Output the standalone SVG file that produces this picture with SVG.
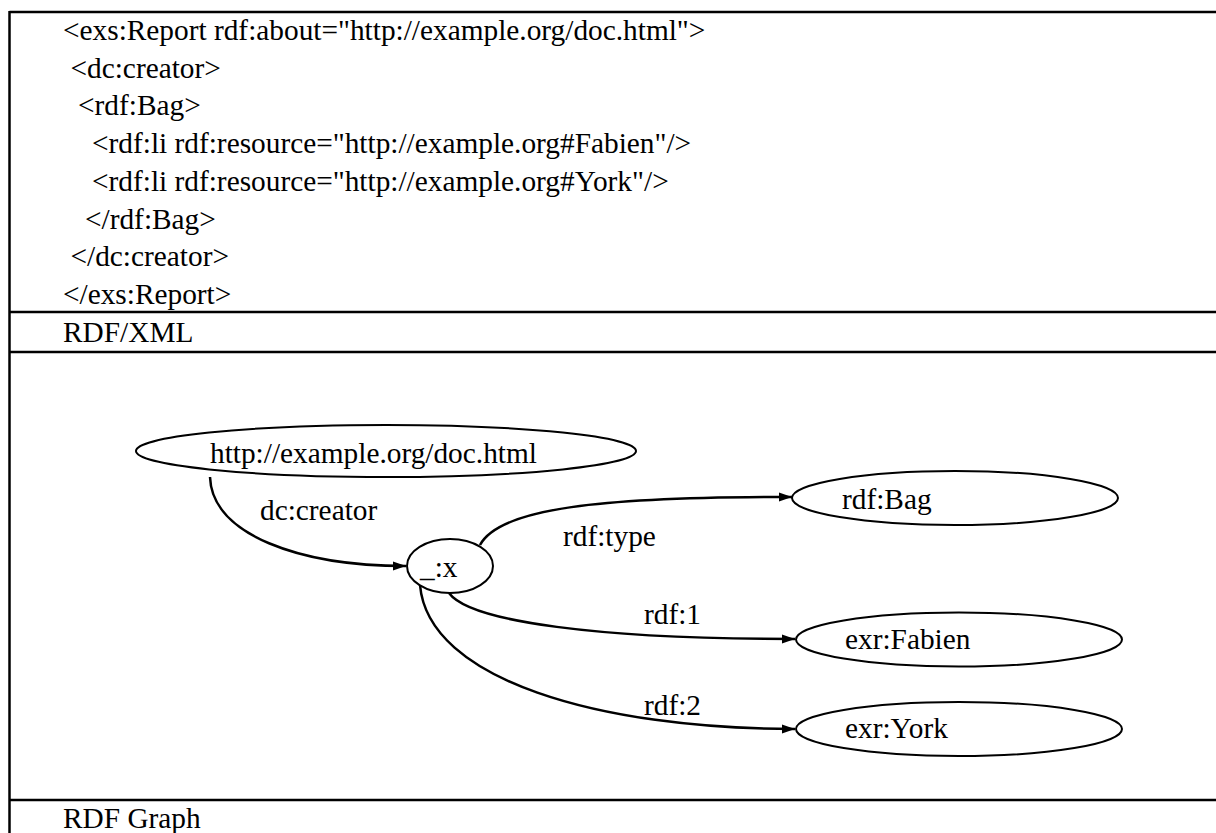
<svg xmlns="http://www.w3.org/2000/svg" width="1216" height="833" viewBox="0 0 1216 833">
<style>
text{font-family:"Liberation Serif","Times New Roman",serif;font-size:29.33px;fill:#000}
.tl{stroke:#000;stroke-width:2.5;fill:none}
.node{fill:#fff;stroke:#000;stroke-width:2}
.edge{fill:none;stroke:#000;stroke-width:2.5}
</style>
<defs>
<marker id="arr" markerUnits="userSpaceOnUse" markerWidth="15" markerHeight="12" refX="13" refY="6" orient="auto">
<path d="M0,1.5 L13,6 L0,10.5 Z" fill="#000"/>
</marker>
</defs>
<rect width="1216" height="833" fill="#fff"/>
<g id="table">
<line class="tl" x1="9.5" y1="12" x2="1216" y2="12"/>
<line class="tl" x1="9.5" y1="11" x2="9.5" y2="833"/>
<line class="tl" x1="9.5" y1="312" x2="1216" y2="312"/>
<line class="tl" x1="9.5" y1="352" x2="1216" y2="352"/>
<line class="tl" x1="9.5" y1="800" x2="1216" y2="800"/>
</g>
<g id="rdfxml">
<text x="63" y="40">&lt;exs:Report rdf:about="http://example.org/doc.html"&gt;</text>
<text x="70.5" y="77.7">&lt;dc:creator&gt;</text>
<text x="78" y="115.4">&lt;rdf:Bag&gt;</text>
<text x="92" y="153.1">&lt;rdf:li rdf:resource="http://example.org#Fabien"/&gt;</text>
<text x="92" y="190.8">&lt;rdf:li rdf:resource="http://example.org#York"/&gt;</text>
<text x="85" y="228.5">&lt;/rdf:Bag&gt;</text>
<text x="70.5" y="266.2">&lt;/dc:creator&gt;</text>
<text x="63" y="303.9">&lt;/exs:Report&gt;</text>
<text x="63" y="342">RDF/XML</text>
</g>
<g id="connectors">
<path class="edge" d="M210,477 C212,535 300,566 406,566" marker-end="url(#arr)"/>
<path class="edge" d="M480,545 C500,508 600,497 792,497" marker-end="url(#arr)"/>
<path class="edge" d="M449,593 C470,622 600,639 795,639" marker-end="url(#arr)"/>
<path class="edge" d="M420,585 C428,680 600,729 795,729" marker-end="url(#arr)"/>
<text x="260" y="520">dc:creator</text>
<text x="563" y="546">rdf:type</text>
<text x="644" y="624">rdf:1</text>
<text x="644" y="715">rdf:2</text>
</g>
<g id="node-doc">
<ellipse class="node" cx="386" cy="451" rx="250" ry="26"/>
<text x="210" y="463">http://example.org/doc.html</text>
</g>
<g id="node-x">
<ellipse class="node" cx="450" cy="566" rx="43" ry="27"/>
<text x="420" y="577">_:x</text>
</g>
<g id="node-bag">
<ellipse class="node" cx="955" cy="498" rx="163" ry="27"/>
<text x="842" y="509">rdf:Bag</text>
</g>
<g id="node-fabien">
<ellipse class="node" cx="959" cy="639.5" rx="163" ry="27"/>
<text x="845" y="649">exr:Fabien</text>
</g>
<g id="node-york">
<ellipse class="node" cx="959" cy="729" rx="163" ry="27"/>
<text x="845" y="738">exr:York</text>
</g>
<g id="caption">
<text x="63" y="828">RDF Graph</text>
</g>
</svg>
